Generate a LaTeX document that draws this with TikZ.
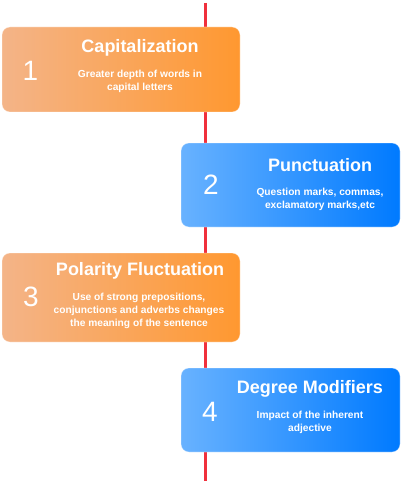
\documentclass[tikz,border=0pt]{standalone}
\usepackage{fontspec}
\setmainfont{Liberation Sans}
\usepackage{tikz}
\usetikzlibrary{positioning, backgrounds}
\definecolor{orangeleft}{RGB}{244,180,136}
\definecolor{orangeright}{RGB}{255,152,48}
\definecolor{blueleft}{RGB}{104,178,255}
\definecolor{blueright}{RGB}{0,122,255}
\definecolor{timeline}{RGB}{240,48,60}
\tikzset{
  orangebox/.style={left color=orangeleft, right color=orangeright},
  bluebox/.style={left color=blueleft, right color=blueright},
}

\begin{document}
\begin{tikzpicture}[
  x=1pt,y=-1pt,
  stage/.style={
    rectangle, rounded corners=8pt, draw=white, draw opacity=0.35, line width=0.8pt,
    inner sep=0pt
  },
  num/.style={font=\fontsize{28}{30}\selectfont, text=white, inner sep=0pt},
  title/.style={font=\fontsize{18}{21}\selectfont\bfseries, text=white, inner sep=0pt},
  desc/.style={font=\fontsize{10.2}{13}\selectfont\bfseries, text=white, inner sep=0pt, align=center},
  line/.style={draw=timeline, line width=3pt}
]
\useasboundingbox (0,0) rectangle (403,484);

% ---- timeline behind the boxes ----
\coordinate (top) at (205,3);
\coordinate (bottom) at (205,481);
\draw[line] (top) -- (bottom);

% ---- stage boxes ----
\node[stage, orangebox, minimum width=238pt, minimum height=85pt] (cap)  at (121,69.5)  {};
\node[stage, bluebox,   minimum width=219pt, minimum height=84pt] (punc) at (290.5,185) {};
\node[stage, orangebox, minimum width=238pt, minimum height=89pt] (pol)  at (121,297.5) {};
\node[stage, bluebox,   minimum width=219pt, minimum height=84pt] (deg)  at (290.5,410) {};

% ---- 1 ----
\node[num]   (cap-num)   at (30.5,71)  {1};
\node[title] (cap-title) at (140,47.5) {Capitalization};
\node[desc]  (cap-desc)  at (140,81.5) {Greater depth of words in\\capital letters};

% ---- 2 ----
\node[num]   (punc-num)   at (211,185)   {2};
\node[title] (punc-title) at (320,165)   {Punctuation};
\node[desc]  (punc-desc)  at (320,199.5) {Question marks, commas,\\exclamatory marks,etc};

% ---- 3 ----
\node[num]   (pol-num)   at (31,296.5)  {3};
\node[title] (pol-title) at (140,270.5) {Polarity Fluctuation};
\node[desc]  (pol-desc)  at (139,311)   {Use of strong prepositions,\\conjunctions and adverbs changes\\the meaning of the sentence};

% ---- 4 ----
\node[num]   (deg-num)   at (210,412)   {4};
\node[title] (deg-title) at (310,388.5) {Degree Modifiers};
\node[desc]  (deg-desc)  at (310,422.5) {Impact of the inherent\\adjective};

\end{tikzpicture}
\end{document}
